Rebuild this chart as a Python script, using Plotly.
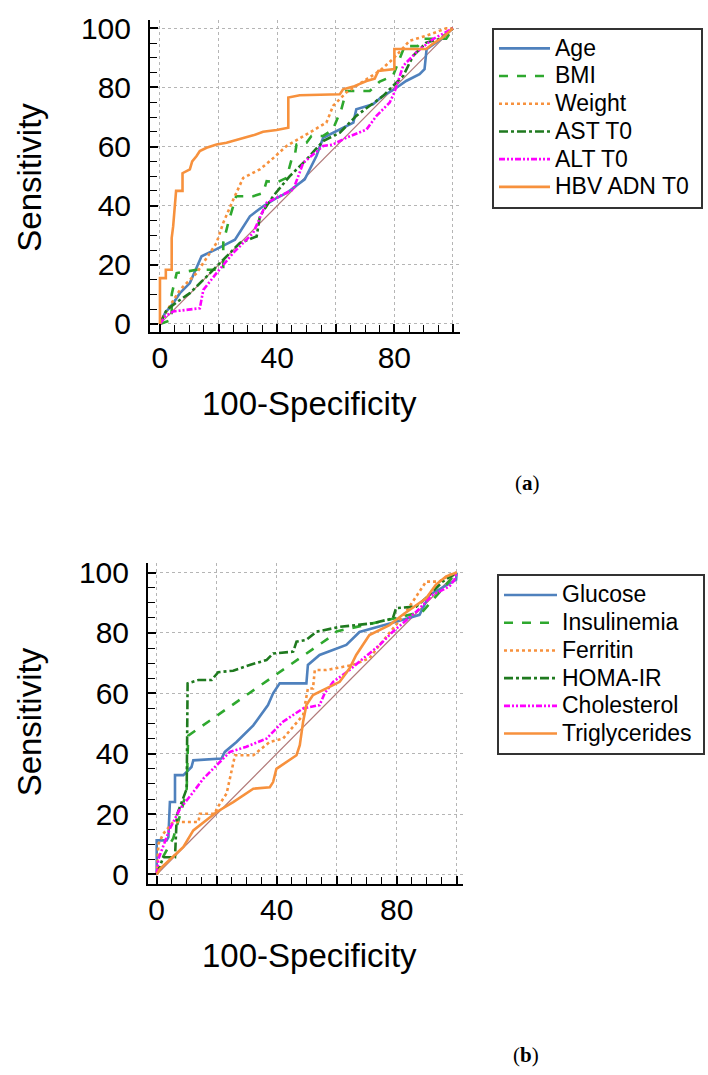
import plotly.graph_objects as go

W, H = 708, 1075

# ---------------- Panel (a) data ----------------
age_x = [0, 1.7, 4.5, 6.8, 10.2, 14.2, 19.3, 25.6, 30.7, 35.2, 39.8, 43.2, 49.4, 53.4, 55.7, 61.4, 66, 67, 72.7, 76, 80, 84, 88.6, 90.3, 91, 96, 100]
age_y = [0, 3.6, 7, 10.4, 13.8, 22.9, 25.3, 28.5, 36.4, 39.8, 42.6, 44.3, 48.9, 56.8, 63, 65.8, 68.1, 72.6, 74.3, 77.1, 79.4, 82.2, 84.5, 86.2, 93, 96.4, 100]

bmi_x = [0, 4, 4, 5.7, 12.5, 21.6, 21.6, 23.3, 26, 31.8, 35.2, 36.4, 39.8, 43.2, 44.9, 46, 46.6, 50, 51.7, 55.7, 59, 61.9, 63.6, 71.6, 75, 79.5, 83.5, 88, 90, 97.7, 100]
bmi_y = [0, 1.4, 10, 17.2, 18.3, 18.3, 27.4, 34.2, 43.2, 43.2, 44.3, 48.3, 47.8, 49.4, 55.6, 56.8, 60.7, 61.3, 63.6, 63.6, 65.8, 72.6, 78.8, 78.8, 82, 83.9, 94, 94, 96.5, 96.5, 100]

weight_x = [0, 1.1, 6.8, 12.5, 19.3, 21.6, 25, 28.4, 34.1, 38.1, 43.2, 51.1, 56.8, 59.1, 63.6, 70.5, 75, 79.5, 85.2, 90.9, 97.7, 100]
weight_y = [0, 2.5, 11.5, 17.2, 27.4, 34.2, 42, 49.4, 52.3, 55.6, 60.2, 64.7, 68.1, 73.8, 78.3, 82.8, 85.6, 89.6, 95.8, 97.5, 100, 100]

ast_x = [0, 2.3, 6.8, 10.2, 15.9, 21.6, 27.3, 33, 34.1, 38.6, 44.3, 50, 55.7, 61.4, 67, 71.6, 76.1, 79.5, 83, 86.4, 90.9, 95.5, 100]
ast_y = [0, 4.8, 8.1, 10.4, 16, 21.7, 27.4, 29.6, 36.4, 43.2, 50, 55.6, 61.9, 64.7, 70.4, 73.8, 77.1, 80.5, 83.9, 90.7, 95.2, 96.4, 100]

alt_x = [0, 1.7, 4.5, 13.6, 14.8, 19.3, 25, 31.8, 36.4, 45.5, 48.9, 55.7, 59, 63.6, 70.5, 73.9, 78.4, 80, 83, 87.5, 93.2, 100]
alt_y = [0, 2.5, 4.2, 5.3, 11.5, 17.2, 24, 30.8, 41, 45.5, 54.5, 60.2, 60.7, 63, 65.8, 70.4, 74.9, 78.3, 87.3, 91.9, 96.4, 100]

hbv_x = [0, 0, 2, 2, 4, 4, 4.5, 5.5, 7.7, 7.7, 10.2, 11, 12.5, 13.6, 15.9, 19.3, 22.7, 26, 28.4, 31.8, 35.2, 39.8, 43.8, 43.8, 47.7, 61.4, 62.5, 66, 70.5, 73.3, 74.5, 78.4, 80, 80, 90.9, 93, 96.6, 100]
hbv_y = [0, 15.5, 15.5, 18.3, 18.3, 29, 33, 45, 45, 51, 52.3, 55, 56.8, 58.5, 59.6, 60.7, 61.3, 62.2, 63, 63.8, 65, 65.6, 66.4, 76.6, 77.4, 77.7, 79.4, 80.3, 82.2, 83, 85.6, 86.2, 86.2, 93, 93, 94.7, 97, 100]

# ---------------- Panel (b) data ----------------
glu_x = [0, 0, 3.3, 3.9, 4.4, 6.1, 6.1, 8.9, 11.6, 12.2, 21.6, 22.7, 26.6, 32.2, 37.1, 38.8, 41, 49.9, 50.4, 54.3, 63.2, 67.6, 79.8, 87.6, 90.9, 99.8, 100]
glu_y = [0, 11.3, 11.3, 12.4, 24, 24, 32.9, 32.9, 35.6, 37.8, 38.4, 40.6, 43.9, 49.4, 56.1, 60, 63.3, 63.3, 69.4, 72.7, 76, 80.3, 83.7, 86, 92.6, 97.6, 100]

ins_x = [0, 2.2, 5.5, 8.5, 10, 10.5, 58.8, 60, 80, 88.6, 100]
ins_y = [0, 6, 12, 22, 28.4, 46, 79.3, 80.5, 85, 87, 100]

fer_x = [0, 0.6, 2.2, 5.5, 13.9, 14.4, 19.4, 20, 23.3, 26.1, 32.2, 37.7, 42.1, 48.8, 50.4, 52.1, 52.7, 56.5, 65.4, 70.9, 74.3, 82, 85.4, 89.8, 94.2, 97.6, 100]
fer_y = [0, 10.2, 13.5, 17.4, 17.4, 20.1, 20.1, 21.8, 26.8, 39.5, 39.5, 43.9, 45, 52.8, 61.6, 61.6, 67.7, 67.7, 69.4, 71.6, 76, 85.4, 90.4, 97, 97, 99.2, 100]

homa_x = [0, 1.1, 2.2, 6.1, 6.7, 10, 10.3, 13.9, 18.3, 20.5, 25.5, 31, 36.6, 38.8, 45.5, 46.6, 49.9, 53.2, 61, 72, 78.7, 79.8, 86.5, 90.9, 95.3, 100]
homa_y = [0, 3, 5.7, 5.7, 19.6, 28.4, 63.3, 64.4, 64.4, 67, 67.5, 69.4, 71, 73.2, 73.8, 77.1, 77.7, 80.4, 82, 83.2, 84.8, 88.2, 88.7, 92.6, 97, 100]

chol_x = [0, 0.6, 4.4, 7.8, 12.2, 15.5, 20, 24.4, 29.9, 36.6, 42.1, 48.8, 54.3, 56, 58.8, 64.3, 67.6, 74.3, 78.7, 86.5, 92, 97.6, 99.2, 100]
chol_y = [0, 5.2, 15.2, 21.8, 27.3, 31.7, 36.2, 40.6, 42.3, 45, 50.6, 55, 56.1, 60, 63.8, 67.7, 70.5, 76, 80.4, 87, 92.6, 95.4, 97.6, 100]

tri_x = [0, 1.1, 8.9, 12.2, 20, 25.5, 32.2, 37.7, 38.8, 39.9, 46.6, 47.7, 48.8, 49.9, 52.1, 61, 64.3, 66.5, 70.9, 77.6, 82, 89.8, 93.1, 96.5, 100]
tri_y = [0, 1.9, 9.1, 14.6, 20.7, 24, 28.4, 28.9, 30.6, 35, 39.5, 42.8, 50.6, 56.1, 59.4, 63.8, 68.3, 72.7, 79.3, 82.6, 86, 91.5, 96, 98.7, 100]

ref_x = [0, 100]
ref_y = [0, 100]

tick_vals = [0, 20, 40, 60, 80, 100]
x_tick_text = ["0", "", "40", "", "80", ""]
y_tick_text = ["0", "20", "40", "60", "80", "100"]

BLUE = "#4f81bd"
LGREEN = "#2ea82e"
DGREEN = "#1f7a1f"
ORANGE = "#f7913d"
MAGENTA = "#ff00ff"
DIAG = "#b07878"

DASH_DOT_DOT = "6px,2px,2px,2px,2px,2px"
FONT = "Liberation Sans, Arial, sans-serif"


def px(x):
    """page x pixel -> paper fraction"""
    return x / W


def py(y):
    """page y pixel (as seen in the photograph) -> paper fraction"""
    return 1 - ((y - 8.5) / 0.983) / H


styles_a = [
    ("Age", age_x, age_y, BLUE, "solid"),
    ("BMI", bmi_x, bmi_y, LGREEN, "dash"),
    ("Weight", weight_x, weight_y, ORANGE, "dot"),
    ("AST T0", ast_x, ast_y, DGREEN, "dashdot"),
    ("ALT T0", alt_x, alt_y, MAGENTA, DASH_DOT_DOT),
    ("HBV ADN T0&nbsp;", hbv_x, hbv_y, ORANGE, "solid"),
]
styles_b = [
    ("Glucose", glu_x, glu_y, BLUE, "solid"),
    ("Insulinemia", ins_x, ins_y, LGREEN, "dash"),
    ("Ferritin", fer_x, fer_y, ORANGE, "dot"),
    ("HOMA-IR", homa_x, homa_y, DGREEN, "dashdot"),
    ("Cholesterol", chol_x, chol_y, MAGENTA, DASH_DOT_DOT),
    ("Triglycerides&nbsp;", tri_x, tri_y, ORANGE, "solid"),
]

fig = go.Figure()

for xa, ya, leg, styles in [("x", "y", "legend", styles_a), ("x2", "y2", "legend2", styles_b)]:
    fig.add_trace(go.Scatter(x=ref_x, y=ref_y, mode="lines", xaxis=xa, yaxis=ya,
                             line=dict(color=DIAG, width=1.2), showlegend=False, hoverinfo="skip"))
    for name, xs, ys, col, dash in styles:
        fig.add_trace(go.Scatter(x=xs, y=ys, mode="lines", xaxis=xa, yaxis=ya,
                                 name='<span style="font-size:23px">' + name + '</span>',
                                 legend=leg, line=dict(color=col, width=2.6, dash=dash)))

TICKFONT = dict(family=FONT, size=30, color="black")


def axis(domain, rng, ticktext, anchor, standoff):
    return dict(domain=domain, range=rng, anchor=anchor, showline=True, linecolor="black",
                linewidth=2, ticks="inside", ticklen=8, tickwidth=1.5, tickcolor="black",
                showgrid=True, gridcolor="#b5b5b5", griddash="dot", gridwidth=1,
                zeroline=False, tickmode="array", tickvals=tick_vals, ticktext=ticktext,
                tickfont=TICKFONT, ticklabelstandoff=standoff,
                minor=dict(tick0=0, dtick=5, ticks="inside", ticklen=7, tickwidth=1,
                           tickcolor="black", showgrid=False))


LEGFONT = dict(family=FONT, size=19, color="black")
fig.update_layout(
    width=W, height=H, margin=dict(l=0, r=0, t=0, b=0),
    paper_bgcolor="white", plot_bgcolor="white", showlegend=True,
    xaxis=axis([px(150), px(460)], [-3.4, 102.4], x_tick_text, "y", -2),
    yaxis=axis([py(332), py(20)], [-2.7, 103.0], y_tick_text, "x", 11),
    xaxis2=axis([px(148), px(463)], [-2.9, 102.1], x_tick_text, "y2", -2),
    yaxis2=axis([py(883), py(563)], [-3.0, 103.1], y_tick_text, "x2", 11),
    legend=dict(x=px(492), y=py(28), xanchor="left", yanchor="top", bgcolor="white",
                bordercolor="#333333", borderwidth=2, itemwidth=51, tracegroupgap=0,
                font=LEGFONT),
    legend2=dict(x=px(497), y=py(574), xanchor="left", yanchor="top", bgcolor="white",
                 bordercolor="#333333", borderwidth=2, itemwidth=53, tracegroupgap=0,
                 font=LEGFONT),
)

TITLEFONT = dict(family=FONT, size=33, color="black")
annos = [
    dict(text="Sensitivity", x=px(30), y=py(178), textangle=-90),
    dict(text="Sensitivity", x=px(29), y=py(722), textangle=-90),
    dict(text="100-Specificity", x=px(309), y=py(404), textangle=0),
    dict(text="100-Specificity", x=px(309), y=py(955), textangle=0),
]
for a in annos:
    fig.add_annotation(xref="paper", yref="paper", showarrow=False, xanchor="center",
                       yanchor="middle", font=TITLEFONT, **a)

for txt, cx, cy in [("(<b>a</b>)", 527, 483), ("(<b>b</b>)", 526, 1054)]:
    fig.add_annotation(text=txt, xref="paper", yref="paper", x=px(cx), y=py(cy),
                       showarrow=False, xanchor="center", yanchor="middle",
                       font=dict(family="Liberation Serif", size=21, color="black"))

fig.write_html(
    "out.html",
    config={"displayModeBar": False},
    post_script=("document.documentElement.style.margin='0';"
                 "document.documentElement.style.overflow='hidden';"
                 "document.body.style.margin='0';"
                 "document.body.style.overflow='hidden';"),
)
